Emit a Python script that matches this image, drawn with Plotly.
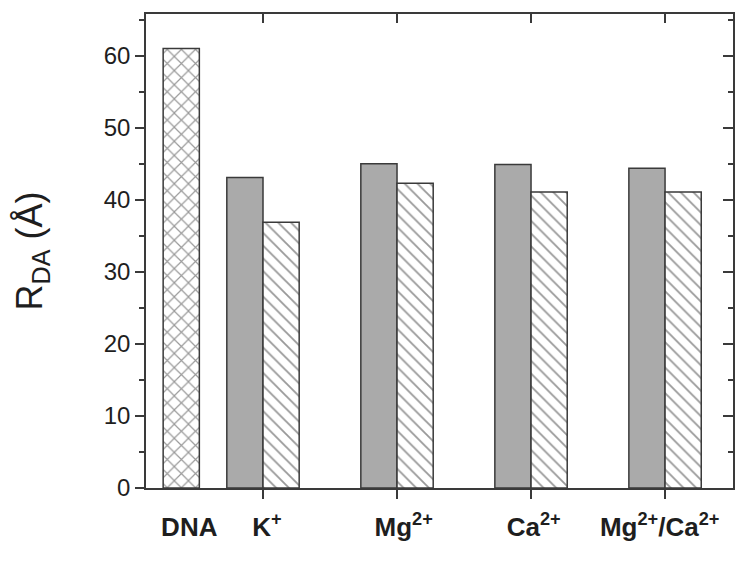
import plotly.graph_objects as go

# ---- data ----
categories = ["DNA", "K<sup>+</sup>", "Mg<sup>2+</sup>", "Ca<sup>2+</sup>", "Mg<sup>2+</sup>/Ca<sup>2+</sup>"]
label_pos = [0.45, 1.03, 2.05, 3.02, 3.96]
dna_pos = [0.39]
dna_value = [61.0]
ion_pos = [1, 2, 3, 4]
solid_values = [43.1, 45.0, 44.9, 44.4]
hatched_values = [36.9, 42.3, 41.1, 41.1]
y_ticks = [0, 10, 20, 30, 40, 50, 60]

W = 0.27
LINE = "#3a3a3a"
TXT = "#1e1e1e"

fig = go.Figure()
fig.add_trace(go.Bar(
    x=dna_pos, y=dna_value, width=W,
    marker=dict(color="white", line=dict(color=LINE, width=1.5),
                pattern=dict(shape="x", fgcolor="#333333", bgcolor="white", size=10, solidity=0.22)),
    showlegend=False))
fig.add_trace(go.Bar(
    x=[p - W / 2 for p in ion_pos], y=solid_values, width=W,
    marker=dict(color="#aaaaaa", line=dict(color=LINE, width=1.5)),
    showlegend=False))
fig.add_trace(go.Bar(
    x=[p + W / 2 for p in ion_pos], y=hatched_values, width=W,
    marker=dict(color="white", line=dict(color=LINE, width=1.5),
                pattern=dict(shape="\\", fgcolor="#333333", bgcolor="white", size=9, solidity=0.2)),
    showlegend=False))

xr = [0.127, 4.507]
yr = [0, 65.8]
font_family = "Liberation Sans, Arial, sans-serif"

fig.update_layout(
    width=742, height=554,
    margin=dict(l=138, r=17, t=6, b=74),
    plot_bgcolor="white", paper_bgcolor="white",
    barmode="overlay",
    font=dict(family=font_family, color=TXT),
    xaxis=dict(range=xr, tickvals=ion_pos, ticks="outside", ticklen=9, tickwidth=1.5,
               tickcolor=LINE, showticklabels=False, showline=True, linecolor=LINE,
               linewidth=1.5, showgrid=False, zeroline=False, automargin=False),
    xaxis2=dict(range=xr, overlaying="x", side="bottom", anchor="y", tickvals=label_pos,
                ticktext=categories, ticks="", showline=False, showgrid=False, zeroline=False,
                tickfont=dict(size=26, weight="bold", color=TXT, family=font_family),
                ticklabelstandoff=21, automargin=False),
    xaxis3=dict(range=xr, overlaying="x", side="top", anchor="y", tickvals=ion_pos,
                ticks="inside", ticklen=9, tickwidth=1.5, tickcolor=LINE, showticklabels=False,
                showline=True, linecolor=LINE, linewidth=1.5, showgrid=False, zeroline=False,
                automargin=False),
    yaxis=dict(range=yr, tickvals=y_ticks, ticks="outside", ticklen=9, tickwidth=1.5,
               tickcolor=LINE, showline=True, linecolor=LINE, linewidth=1.5,
               showgrid=False, zeroline=False, automargin=False,
               minor=dict(dtick=5, tick0=0, ticks="outside", ticklen=5, tickwidth=1.5, tickcolor=LINE),
               tickfont=dict(size=24, color=TXT, family=font_family),
               title=dict(text="R<sub>DA</sub> (Å)", font=dict(size=36, color=TXT, family=font_family),
                          standoff=50)),
    yaxis2=dict(range=yr, overlaying="y", side="right", anchor="x", tickvals=y_ticks,
                ticks="inside", ticklen=10, tickwidth=1.5, tickcolor=LINE, showticklabels=False,
                showline=True, linecolor=LINE, linewidth=1.5, showgrid=False, zeroline=False,
                automargin=False,
                minor=dict(dtick=5, tick0=0, ticks="inside", ticklen=5, tickwidth=1.5, tickcolor=LINE)),
)
# invisible traces to activate auxiliary axes
fig.add_trace(go.Scatter(x=dna_pos, y=[0], xaxis="x2", yaxis="y", mode="markers",
                         marker=dict(opacity=0), showlegend=False, hoverinfo="skip"))
fig.add_trace(go.Scatter(x=dna_pos, y=[0], xaxis="x3", yaxis="y2", mode="markers",
                         marker=dict(opacity=0), showlegend=False, hoverinfo="skip"))

fig.write_html("out.html")
